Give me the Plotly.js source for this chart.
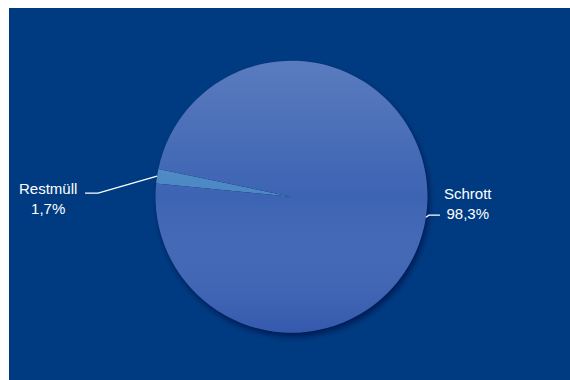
<!DOCTYPE html>
<html>
<head>
<meta charset="utf-8">
<script src="https://cdn.plot.ly/plotly-3.0.1.min.js"></script>
<style>html,body{margin:0;padding:0;background:#fff;}</style>
</head>
<body>
<div id="chart" style="width:570px;height:380px"></div>
<script>
// ---- data ----
const categories = ['Restmüll', 'Schrott'];
const shares = [1.7, 98.3];
const shareLabels = ['1,7%', '98,3%'];

// ---- style ----
const sliceColors = ['#4a88c4', '#3d64b3'];
const bgColor = '#003b82';
const W = 570, H = 380;
const cx = 291.5, cy = 196.7, R = 136;
const ROT = -84.4;
// leader-line geometry (offsets from slice edge point), label offsets from line end
const leader = [
  {elbow: [-59, 17], end: [-13, 0], text: [-37, 5]},
  {elbow: [3, -2], end: [11, 0], text: [28, -12]}
];
const FONT = {family: 'Liberation Sans, Arial, sans-serif', size: 15, color: '#ffffff'};

const px2x = x => x / W;
const px2y = y => 1 - y / H;

const total = shares.reduce((a, b) => a + b, 0);
const shapes = [
  {type: 'rect', xref: 'paper', yref: 'paper', x0: 0, x1: 9 / W, y0: 0, y1: 1, fillcolor: '#ffffff', line: {width: 0}, layer: 'above'},
  {type: 'rect', xref: 'paper', yref: 'paper', x0: 0, x1: 1, y0: 1 - 8 / H, y1: 1, fillcolor: '#ffffff', line: {width: 0}, layer: 'above'}
];
const annotations = [];
let cum = 0;
shares.forEach((v, i) => {
  const mid = ROT + 360 * (cum + v / 2) / total;
  cum += v;
  const a = mid * Math.PI / 180;
  const ex = cx + R * Math.sin(a), ey = cy - R * Math.cos(a);
  const L = leader[i];
  const bx = ex + L.elbow[0], by = ey + L.elbow[1];
  const fx = bx + L.end[0], fy = by + L.end[1];
  shapes.push({
    type: 'path', xref: 'paper', yref: 'paper',
    path: `M ${px2x(ex)} ${px2y(ey)} L ${px2x(bx)} ${px2y(by)} L ${px2x(fx)} ${px2y(fy)}`,
    line: {color: '#ffffff', width: 1.3}
  });
  annotations.push({
    xref: 'paper', yref: 'paper', x: px2x(fx + L.text[0]), y: px2y(fy + L.text[1]),
    xanchor: 'center', yanchor: 'middle', align: 'center', showarrow: false,
    text: categories[i] + '<br>' + shareLabels[i], font: FONT
  });
});

const gradSvg = `<svg xmlns="http://www.w3.org/2000/svg" width="272" height="272" viewBox="0 0 272 272">
<defs><linearGradient id="g" x1="0" y1="0" x2="0" y2="1">
<stop offset="0" stop-color="#ffffff" stop-opacity="0.15"/>
<stop offset="0.5" stop-color="#ffffff" stop-opacity="0"/>
<stop offset="1" stop-color="#0a2a95" stop-opacity="0.18"/>
</linearGradient></defs>
<circle cx="136" cy="136" r="136" fill="url(#g)"/></svg>`;
const shadowSvg = `<svg xmlns="http://www.w3.org/2000/svg" width="300" height="300" viewBox="0 0 300 300">
<defs><filter id="f" x="-20%" y="-20%" width="140%" height="140%"><feGaussianBlur stdDeviation="3"/></filter></defs>
<circle cx="152" cy="154" r="136" fill="#000a30" fill-opacity="0.55" filter="url(#f)"/></svg>`;

const data = [{
  type: 'pie',
  labels: categories,
  values: shares,
  sort: false,
  direction: 'clockwise',
  rotation: ROT,
  textinfo: 'none',
  hoverinfo: 'label+percent',
  marker: {colors: sliceColors, line: {width: 0}},
  domain: {x: [px2x(cx - R), px2x(cx + R)], y: [px2y(cy + R), px2y(cy - R)]},
  showlegend: false
}];

const layout = {
  width: W, height: H,
  margin: {l: 0, r: 0, t: 0, b: 0},
  paper_bgcolor: bgColor,
  showlegend: false,
  shapes: shapes,
  annotations: annotations,
  images: [
    {source: 'data:image/svg+xml;charset=utf-8,' + encodeURIComponent(shadowSvg), xref: 'paper', yref: 'paper',
     x: px2x(cx - 150), y: px2y(cy - 150), sizex: 300 / W, sizey: 300 / H, sizing: 'stretch', xanchor: 'left', yanchor: 'top', layer: 'below'},
    {source: 'data:image/svg+xml;charset=utf-8,' + encodeURIComponent(gradSvg), xref: 'paper', yref: 'paper',
     x: px2x(cx - R), y: px2y(cy - R), sizex: 2 * R / W, sizey: 2 * R / H, sizing: 'stretch', xanchor: 'left', yanchor: 'top', layer: 'above'}
  ]
};

Plotly.newPlot('chart', data, layout, {displayModeBar: false, staticPlot: true});
</script>
</body>
</html>
